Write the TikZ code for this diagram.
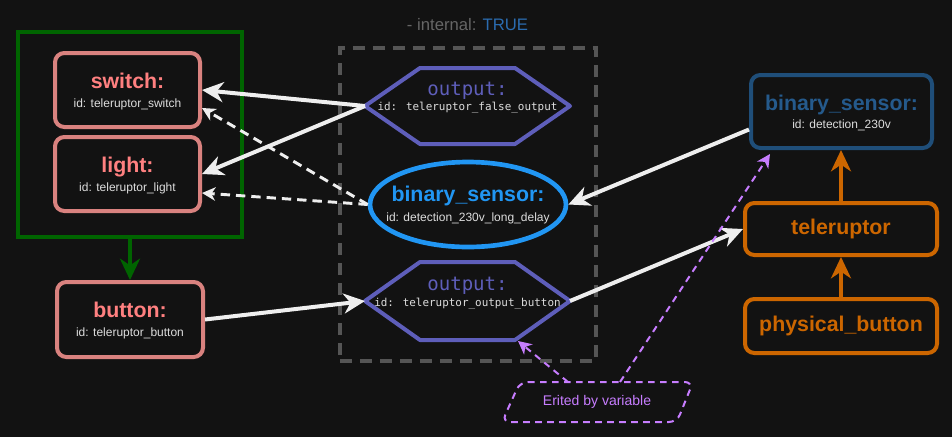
\documentclass[tikz,border=0pt]{standalone}
\usepackage{fontspec}
\setmainfont{Liberation Sans}
\newfontfamily\monof{DejaVu Sans Mono}
\usetikzlibrary{arrows.meta,calc,shapes.geometric}
\definecolor{bgc}{HTML}{121212}
\definecolor{grn}{HTML}{006400}
\definecolor{salm}{HTML}{D9827F}
\definecolor{salmt}{HTML}{FF8080}
\definecolor{idg}{HTML}{DDDDDD}
\definecolor{hexc}{HTML}{5E5EBA}
\definecolor{sky}{HTML}{2196F3}
\definecolor{dblue}{HTML}{1F4E79}
\definecolor{dbluet}{HTML}{255A8C}
\definecolor{orng}{HTML}{CC6600}
\definecolor{purp}{HTML}{C77DFF}
\definecolor{dgrey}{HTML}{555555}
\definecolor{intg}{HTML}{666666}
\definecolor{trueb}{HTML}{2B6CB0}
\definecolor{wht}{HTML}{EEEEEE}
\def\P{*0.75pt}
\tikzset{
  box/.style={draw, line width=3pt, rounded corners=7pt, inner sep=0pt, fill=bgc},
  ttl/.style={font=\fontsize{16}{19}\selectfont\bfseries, anchor=base, inner sep=0pt},
  idt/.style={font=\fontsize{9}{11}\selectfont, text=idg, anchor=base, inner sep=0pt},
  hexttl/.style={font=\monof\fontsize{14.3}{16}\selectfont, text=hexc, anchor=base, inner sep=0pt},
  hexid/.style={font=\monof\fontsize{8.2}{10}\selectfont, text=idg, anchor=base, inner sep=0pt},
  hexholder/.style={inner sep=0pt, outer sep=0pt, minimum width=205\P},
  hexline/.style={draw=hexc, line width=3pt, line join=round, fill=bgc},
  bigtip/.style={-{Stealth[length=16pt,width=15pt,inset=5pt]}},
  warrow/.style={draw=wht, line width=3pt, bigtip},
  wdash/.style={draw=wht, line width=2.2pt, dash pattern=on 7pt off 4.5pt, -{Stealth[length=10pt,width=10pt,inset=3pt]}},
  parrow/.style={draw=purp, line width=1.5pt, dash pattern=on 5pt off 4pt, -{Stealth[length=10pt,width=10pt,inset=3pt]}},
}
\begin{document}
\begin{tikzpicture}[x=0.75pt,y=-0.75pt]
\fill[bgc] (0,0) rectangle (952,437);
\useasboundingbox (0,0) rectangle (952,437);

% group and internal frame
\node[draw=grn, line width=3pt, minimum width=224\P, minimum height=205\P, inner sep=0pt] (grp) at (130,134.5) {};
\node[draw=dgrey, line width=3pt, dash pattern=on 9pt off 6pt, minimum width=256\P, minimum height=313\P, inner sep=0pt] (intf) at (468,204.5) {};
\node[font=\fontsize{12.5}{15}\selectfont, inner sep=0pt] (intl) at (467.5,25) {\textcolor{intg}{- internal: }\textcolor{trueb}{TRUE}};

% left boxes
\node[box, draw=salm, minimum width=145\P, minimum height=74\P] (sw) at (127.5,90) {};
\node[ttl, text=salmt] (swt) at ($(sw.center)+(0,-2)$) {switch:};
\node[idt] (swi) at ($(sw.center)+(0,17)$) {id: teleruptor\_switch};

\node[box, draw=salm, minimum width=145\P, minimum height=74\P] (lt) at (127.5,174) {};
\node[ttl, text=salmt] (ltt) at ($(lt.center)+(0,-2)$) {light:};
\node[idt] (lti) at ($(lt.center)+(0,17)$) {id: teleruptor\_light};

\node[box, draw=salm, minimum width=146\P, minimum height=75\P] (bt) at (130,319.5) {};
\node[ttl, text=salmt] (btt) at ($(bt.center)+(0,-2.5)$) {button:};
\node[idt] (bti) at ($(bt.center)+(0,17)$) {id: teleruptor\_button};

% hexagons
\node[hexholder, minimum height=76\P] (o1) at (467.5,106) {};
\draw[hexline] (o1.west) -- ($(o1.north west)+(55,0)$) -- ($(o1.north east)+(-55,0)$) -- (o1.east) -- ($(o1.south east)+(-55,0)$) -- ($(o1.south west)+(55,0)$) -- cycle;
\node[hexttl] (o1t) at ($(o1.center)+(0,-11)$) {output:};
\node[hexid] (o1i) at ($(o1.center)+(0,4)$) {id: teleruptor\_false\_output};

\node[hexholder, minimum height=78\P] (o2) at (467.5,301) {};
\draw[hexline] (o2.west) -- ($(o2.north west)+(55,0)$) -- ($(o2.north east)+(-55,0)$) -- (o2.east) -- ($(o2.south east)+(-55,0)$) -- ($(o2.south west)+(55,0)$) -- cycle;
\node[hexttl] (o2t) at ($(o2.center)+(0,-11)$) {output:};
\node[hexid] (o2i) at ($(o2.center)+(0,5)$) {id: teleruptor\_output\_button};

% ellipse
\node[ellipse, draw=sky, line width=3.5pt, fill=bgc, minimum width=196\P, minimum height=85\P, inner sep=0pt] (bs1) at (468,204.5) {};
\node[ttl, text=sky] (bs1t) at ($(bs1.center)+(0,-3)$) {binary\_sensor:};
\node[idt] (bs1i) at ($(bs1.center)+(0,17)$) {id: detection\_230v\_long\_delay};

% right boxes
\node[box, draw=dblue, minimum width=181\P, minimum height=73\P] (bs2) at (841.5,111.5) {};
\node[ttl, text=dbluet] (bs2t) at ($(bs2.center)+(0,-1.5)$) {binary\_sensor:};
\node[idt] (bs2i) at ($(bs2.center)+(0,16.5)$) {id: detection\_230v};

\node[box, draw=orng, text=orng, font=\fontsize{16}{19}\selectfont\bfseries, minimum width=192\P, minimum height=52\P] (tele) at (841,229) {teleruptor};
\node[box, draw=orng, text=orng, font=\fontsize{16}{19}\selectfont\bfseries, minimum width=192\P, minimum height=54\P] (pb) at (841,326) {physical\_button};

% note
\node[font=\fontsize{10.5}{13}\selectfont, text=purp, inner sep=0pt] (ev) at (597,402) {Erited by variable};
\draw[draw=purp, line width=1.5pt, dash pattern=on 5pt off 4pt, rounded corners=6pt]
  ($(ev)+(-77,-20)$) -- ($(ev)+(96,-20)$) -- ($(ev)+(80,20)$) -- ($(ev)+(-95,20)$) -- cycle;

% connectors
\draw[draw=grn, line width=3pt, bigtip] (grp.south) -- (bt.north);
\draw[draw=orng, line width=3pt, bigtip] (tele.north) -- (tele.north |- bs2.south);
\draw[draw=orng, line width=3pt, bigtip] (pb.north) -- (tele.south);

\draw[warrow] (o1.west) -- (sw.east);
\draw[warrow] (o1.west) -- (lt.east);
\draw[wdash] (bs1.west) -- ($(sw.east)+(0,18)$);
\draw[wdash] (bs1.west) -- ($(lt.east)+(0,19)$);
\draw[warrow] (bt.east) -- (o2.west);
\draw[warrow] (o2.east) -- (tele.west);
\draw[warrow] ($(bs2.west)+(0,18)$) -- (bs1.east);

\draw[parrow] ($(ev)+(-29,-20)$) -- ($(o2.south east)+(-52,1)$);
\draw[parrow] ($(ev)+(23,-20)$) -- ($(bs2.south west)+(21,4)$);
\end{tikzpicture}
\end{document}
